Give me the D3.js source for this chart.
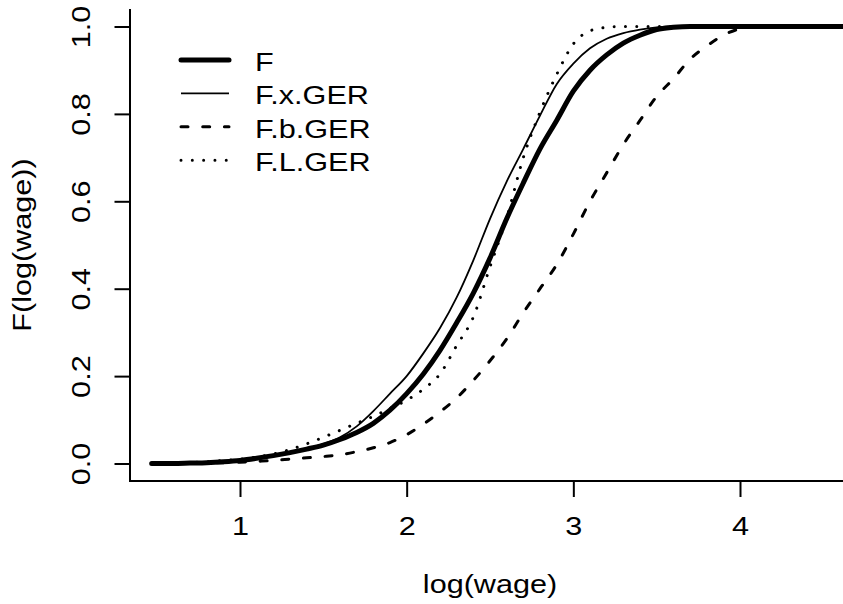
<!DOCTYPE html>
<html>
<head>
<meta charset="utf-8">
<script src="https://cdn.jsdelivr.net/npm/d3@7"></script>
<style>
  html, body { margin: 0; padding: 0; background: #fff; }
  svg { display: block; }
  text { font-family: "Liberation Sans", Arial, Helvetica, sans-serif; fill: #000; }
</style>
</head>
<body>
<svg id="chart" width="843" height="604"></svg>
<script>
// ---- data ----
const xs = [0.47, 0.6, 0.7, 0.8, 0.9,
  1.0, 1.1, 1.2, 1.3, 1.4, 1.5, 1.6, 1.7, 1.8, 1.9,
  2.0, 2.1, 2.2, 2.3, 2.4, 2.5, 2.6, 2.7, 2.8, 2.9,
  3.0, 3.1, 3.2, 3.3, 3.4, 3.5, 3.6, 3.7, 3.8, 3.9,
  4.0, 4.1, 4.2, 4.3, 4.4, 4.5, 4.6, 4.7];
const F = [0, 0, 0.001, 0.002, 0.004,
  0.007, 0.012, 0.018, 0.025, 0.033, 0.042, 0.055, 0.071, 0.092, 0.122,
  0.16, 0.205, 0.259, 0.322, 0.39, 0.47, 0.56, 0.642, 0.72, 0.785,
  0.852, 0.90, 0.935, 0.962, 0.98, 0.993, 0.998, 1, 1, 1,
  1, 1, 1, 1, 1, 1, 1, 1];
const FxGER = [0, 0, 0.001, 0.002, 0.004,
  0.007, 0.011, 0.017, 0.024, 0.033, 0.045, 0.060, 0.085, 0.12, 0.16,
  0.20, 0.252, 0.31, 0.38, 0.465, 0.56, 0.645, 0.72, 0.796, 0.868,
  0.915, 0.95, 0.972, 0.985, 0.993, 0.998, 1, 1, 1, 1,
  1, 1, 1, 1, 1, 1, 1, 1];
const FbGER = [0, 0, 0, 0.001, 0.002,
  0.003, 0.005, 0.007, 0.01, 0.013, 0.016, 0.02, 0.027, 0.036, 0.048,
  0.066, 0.09, 0.118, 0.15, 0.19, 0.235, 0.285, 0.345, 0.40, 0.455,
  0.525, 0.60, 0.665, 0.73, 0.785, 0.84, 0.88, 0.925, 0.955, 0.98,
  0.995, 1, 1, 1, 1, 1, 1, 1];
const FLGER = [0, 0.001, 0.002, 0.004, 0.007,
  0.010, 0.015, 0.022, 0.032, 0.045, 0.06, 0.076, 0.092, 0.108, 0.126,
  0.145, 0.17, 0.205, 0.27, 0.335, 0.45, 0.562, 0.70, 0.804, 0.89,
  0.96, 0.99, 0.998, 1, 1, 1, 1, 1, 1, 1,
  1, 1, 1, 1, 1, 1, 1, 1];
const seriesNames = ["F", "F.x.GER", "F.b.GER", "F.L.GER"];
const xTicks = [1, 2, 3, 4];
const yTicks = [0, 0.2, 0.4, 0.6, 0.8, 1.0];
const xTitle = "log(wage)";
const yTitle = "F(log(wage))";

// ---- styles per series ----
const styles = [
  { width: 5,   dash: null,        cap: "round" },
  { width: 1.8, dash: null,        cap: "round" },
  { width: 3,   dash: "7,14.7",    cap: "round" },
  { width: 3,   dash: "0.01,11.3", cap: "round" }
];
const seriesValues = [F, FxGER, FbGER, FLGER];

// ---- layout ----
const plot = { left: 130, right: 850, top: 9, bottom: 481 };
const x = d3.scaleLinear().domain([0.34, 4.66]).range([plot.left, plot.right]);
const y = d3.scaleLinear().domain([-0.04, 1.04]).range([plot.bottom, plot.top]);
const FS = 25.5, SX = 1.2;

const svg = d3.select("#chart");

svg.append("clipPath").attr("id", "clip")
  .append("rect").attr("x", plot.left).attr("y", plot.top)
  .attr("width", plot.right - plot.left).attr("height", plot.bottom - plot.top);

// curves
const line = d3.line().curve(d3.curveMonotoneX).x((d, i) => x(xs[i])).y(d => y(d));
const g = svg.append("g").attr("clip-path", "url(#clip)");
seriesValues.forEach((vals, k) => {
  const s = styles[k];
  g.append("path")
    .datum(vals)
    .attr("d", line)
    .attr("fill", "none")
    .attr("stroke", "#000")
    .attr("stroke-width", s.width)
    .attr("stroke-linecap", s.cap)
    .attr("stroke-linejoin", "round")
    .attr("stroke-dasharray", s.dash);
});

// L box
svg.append("path")
  .attr("d", `M${plot.left},${plot.top}V${plot.bottom}H${plot.right}`)
  .attr("fill", "none").attr("stroke", "#000").attr("stroke-width", 2);

// x axis
const xAxis = svg.append("g").attr("transform", `translate(0,${plot.bottom})`)
  .call(d3.axisBottom(x).tickValues(xTicks).tickSize(16).tickSizeOuter(0).tickFormat(d3.format("d")));
xAxis.select(".domain").remove();
xAxis.selectAll("line").attr("stroke", "#000").attr("stroke-width", 2);
xAxis.selectAll("text")
  .attr("y", null).attr("dy", null)
  .attr("font-size", FS)
  .attr("text-anchor", "middle")
  .attr("transform", `translate(0,54) scale(${SX},1)`);

// y axis
const yAxis = svg.append("g").attr("transform", `translate(${plot.left},0)`)
  .call(d3.axisLeft(y).tickValues(yTicks).tickSize(15.5).tickSizeOuter(0).tickFormat(d3.format(".1f")));
yAxis.select(".domain").remove();
yAxis.selectAll("line").attr("stroke", "#000").attr("stroke-width", 2);
yAxis.selectAll("text")
  .attr("x", null).attr("dy", null)
  .attr("font-size", FS)
  .attr("text-anchor", "middle")
  .attr("transform", `translate(-40,0) rotate(-90) scale(${SX},1)`);

// axis titles
svg.append("text")
  .attr("font-size", FS).attr("text-anchor", "middle")
  .attr("transform", `translate(${(plot.left + plot.right) / 2},593) scale(${SX},1)`)
  .text(xTitle);
svg.append("text")
  .attr("font-size", FS).attr("text-anchor", "middle")
  .attr("transform", `translate(31,${(plot.top + plot.bottom) / 2}) rotate(-90) scale(${SX},1)`)
  .text(yTitle);

// legend
const leg = svg.append("g");
seriesNames.forEach((name, k) => {
  const yy = 60 + k * 33.4;
  const s = styles[k];
  leg.append("line")
    .attr("x1", 181).attr("x2", 229).attr("y1", yy).attr("y2", yy)
    .attr("stroke", "#000").attr("stroke-width", s.width)
    .attr("stroke-linecap", k === 1 ? "butt" : s.cap)
    .attr("stroke-dasharray", s.dash);
  leg.append("text")
    .attr("font-size", FS)
    .attr("transform", `translate(255,${yy + 10.7}) scale(${SX},1)`)
    .text(name);
});
</script>
</body>
</html>
